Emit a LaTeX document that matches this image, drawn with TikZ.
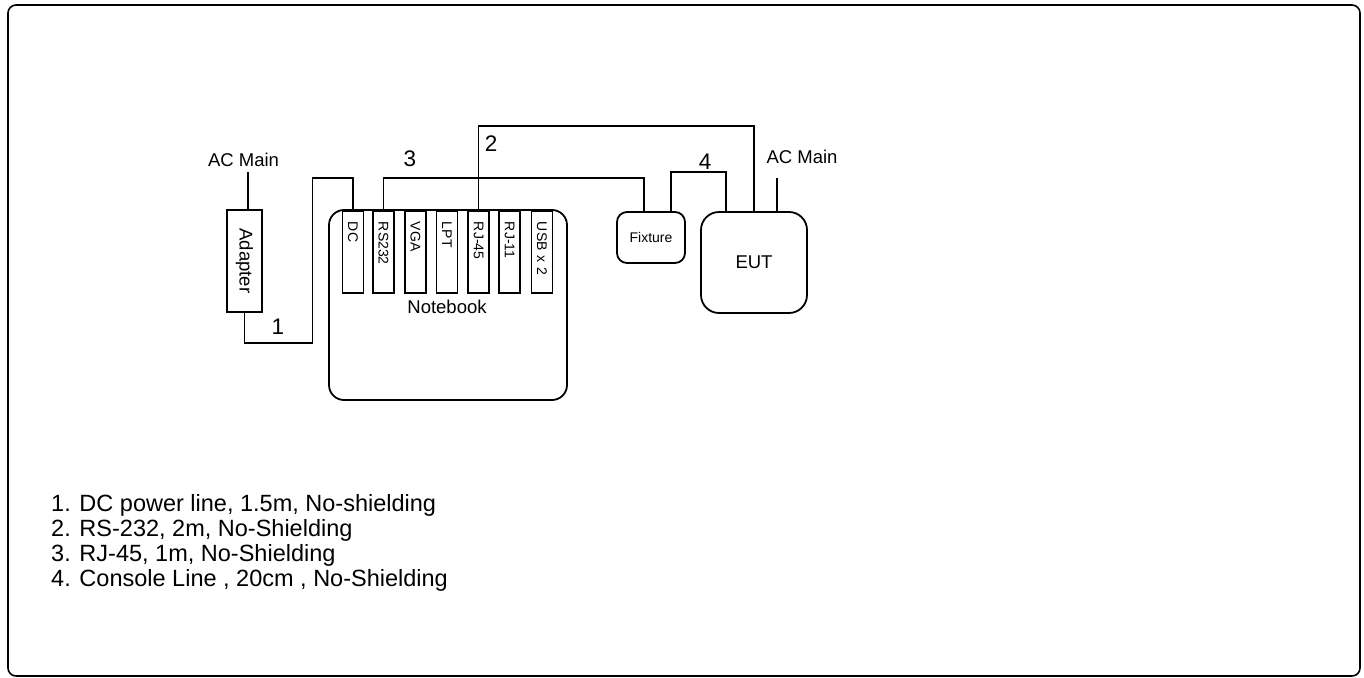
\documentclass[tikz,border=0pt]{standalone}
\usepackage{fontspec}
\setmainfont{Liberation Sans}
\usetikzlibrary{positioning}

\begin{document}
\begin{tikzpicture}[x=1pt, y=-1pt,
  lbl/.style={font=\fontsize{18.5}{22}\selectfont, inner sep=0pt},
  num/.style={font=\fontsize{22.5}{25}\selectfont, inner sep=0pt},
  box/.style={draw, line width=1.8pt, rounded corners=15pt},
  portbox/.style={draw, line width=1.8pt, rotate=-90, anchor=west, minimum height=21pt,
    inner xsep=11pt, inner ysep=0pt, text width=60pt, align=left, font=\fontsize{14}{16}\selectfont},
  cable/.style={line width=1.3pt}]
\useasboundingbox (0,0) rectangle (1364,677);
\draw[line width=1.6pt, rounded corners=8pt] (8,5) rectangle (1360,676);

% adapter and notebook
\node[lbl] (acleft) at (243.5,160) {AC Main};
\node[draw, line width=1.8pt, rotate=-90, minimum width=102pt, minimum height=35pt, lbl] (adapter) at (244.5,261) {Adapter};
\node[box, minimum width=238pt, minimum height=190pt] (notebook) at (448,305) {};
\node[lbl] (nblabel) at (447,307) {Notebook};
\node[portbox] (dc) at (353,210) {DC};
\node[portbox] (rs) at (383.5,210) {RS232};
\node[portbox] (vga) at (415.5,210) {VGA};
\node[portbox] (lpt) at (447,210) {LPT};
\node[portbox] (rjfive) at (478.5,210) {RJ-45};
\node[portbox] (rjone) at (509.5,210) {RJ-11};
\node[portbox] (usb) at (542,210) {USB x 2};

% fixture and EUT
\node[box, rounded corners=10pt, minimum width=68pt, minimum height=51pt, font=\fontsize{14}{16}\selectfont] (fix) at (651,237.5) {Fixture};
\node[box, rounded corners=18pt, minimum width=106pt, minimum height=101pt, lbl] (eut) at (754,262.5) {EUT};
\node[lbl] (acright) at (802,157) {AC Main};

% cables
\draw[line width=1.6pt, shorten >=5pt] ([xshift=3.5pt]adapter.west) -- ([xshift=3.5pt]adapter.west |- acleft.south);
\draw[cable] (adapter.east) -- ++(0,30) -- ++(68,0) |- ([yshift=32pt]dc.west) -- (dc.west);
\draw[cable] (rs.west) -- ++(0,-32) -| ([xshift=-7pt]fix.north);
\draw[line width=1.6pt] (rjfive.west) -- ++(0,-84) -| (eut.north);
\draw[cable] ([xshift=20pt]fix.north) -- ++(0,-39) -| ([xshift=-28pt]eut.north);
\draw[line width=1.6pt, shorten >=14pt] ([xshift=23pt]eut.north) -- ([xshift=23pt]eut.north |- acright.south);
\node[num] (one) at (278,327) {1};
\node[num] (two) at (491,143.5) {2};
\node[num] (three) at (410,158.5) {3};
\node[num] (four) at (705,162) {4};

% legend
\node[anchor=north west, align=left, inner sep=0pt, font=\fontsize{23.5}{25}\selectfont] (legend) at (51,494.5)
  {1. DC power line, 1.5m, No-shielding\\2. RS-232, 2m, No-Shielding\\3. RJ-45, 1m, No-Shielding\\4. Console Line , 20cm , No-Shielding};
\end{tikzpicture}
\end{document}
